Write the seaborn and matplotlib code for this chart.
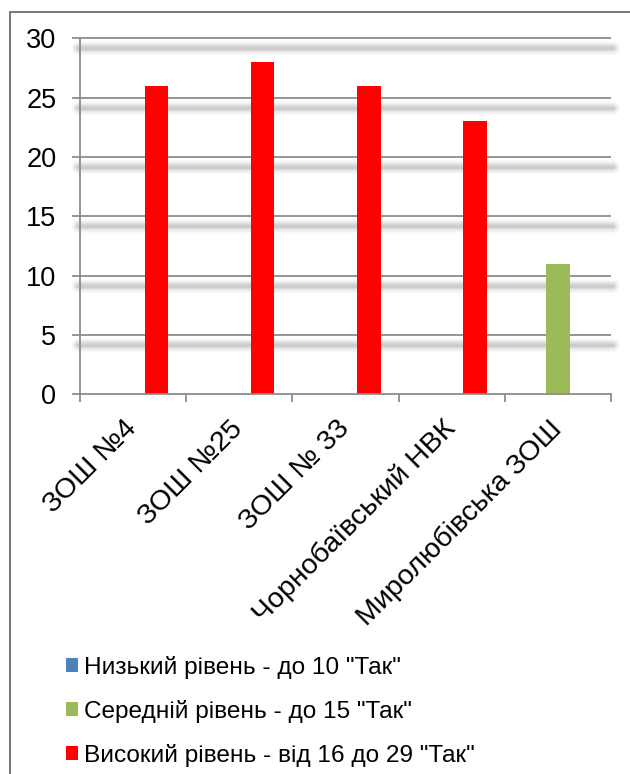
import matplotlib
matplotlib.use("Agg")
import matplotlib.pyplot as plt
import matplotlib.patches as mpatches
import seaborn as sns
import pandas as pd
import numpy as np

schools = ["ЗОШ №4", "ЗОШ №25", "ЗОШ № 33", "Чорнобаївський НВК", "Миролюбівська ЗОШ"]
series_names = ['Низький рівень - до 10 "Так"', 'Середній рівень - до 15 "Так"',
                'Високий рівень - від 16 до 29 "Так"']
low = [0, 0, 0, 0, 0]
mid = [0, 0, 0, 0, 11]
high = [26, 28, 26, 23, 0]
colors = ["#4F81BD", "#9BBB59", "#FF0000"]
yticks = [0, 5, 10, 15, 20, 25, 30]

rows = []
for name, vals in zip(series_names, [low, mid, high]):
    for s, v in zip(schools, vals):
        rows.append({"school": s, "series": name, "value": v})
df = pd.DataFrame(rows)

sns.set_theme(style="white")
plt.rcParams["font.family"] = ["Liberation Sans", "DejaVu Sans"]
plt.rcParams["text.color"] = "black"
plt.rcParams["xtick.labelcolor"] = "black"
plt.rcParams["ytick.labelcolor"] = "black"

W, H = 630, 774
fig = plt.figure(figsize=(W / 100, H / 100), dpi=100)
ax = fig.add_axes([80 / W, 1 - 394.3 / H, (611 - 80) / W, (394.3 - 38.3) / H])

sns.barplot(data=df, x="school", y="value", hue="series", order=schools,
            hue_order=series_names, palette=colors, width=0.66, ax=ax,
            saturation=1, edgecolor="none", linewidth=0, errorbar=None)

handles, labels = ax.get_legend_handles_labels()
if ax.get_legend() is not None:
    ax.get_legend().remove()

ax.set_xlim(-0.5, len(schools) - 0.5)
ax.set_ylim(0, 30)
ax.set_xlabel("")
ax.set_ylabel("")

grid_c = "#8C8C8C"
px_per_unit = (394.3 - 38.3) / 30
off = 10 / px_per_unit
# gridlines with blurred shadow
for y in yticks[1:]:
    ax.plot([-0.5, len(schools) - 0.5], [y, y], color=grid_c, lw=1.3, zorder=0.5,
            solid_capstyle="butt", clip_on=False)
    for lw, a in [(10, 0.04), (8, 0.06), (6, 0.08), (4, 0.11), (2.5, 0.14)]:
        ax.plot([-0.52, len(schools) - 0.48], [y - off, y - off], color="#7a7a7a",
                lw=lw, alpha=a, zorder=0.3, solid_capstyle="round", clip_on=False)

for sp in ["top", "right"]:
    ax.spines[sp].set_visible(False)
for sp in ["left", "bottom"]:
    ax.spines[sp].set_color(grid_c)
    ax.spines[sp].set_linewidth(1.3)

ax.set_yticks(yticks)
ax.set_yticklabels([str(t) for t in yticks])
ax.tick_params(axis="y", direction="out", length=6, width=1.3, color=grid_c,
               labelsize=19.5, pad=11, left=True, labelcolor="black")

ax.set_xticks(range(len(schools)))
ax.set_xticklabels(schools, rotation=45, ha="right", va="center",
                   rotation_mode="anchor", fontsize=20.5, color="black")
ax.tick_params(axis="x", which="major", length=0, pad=22)
ax.set_xticks(np.arange(-0.5, len(schools), 1.0), minor=True)
ax.tick_params(axis="x", which="minor", direction="out", length=6, width=1.3,
               color=grid_c, bottom=True)

for b in ax.patches:
    b.set_zorder(2)

# frame (top and left edges visible)
fig.patches.append(mpatches.Rectangle((10 / W, -0.05), 1.1, 1 - 12 / H + 0.05,
                                      transform=fig.transFigure, fill=False,
                                      edgecolor="#6d6d6d", lw=1.3))

leg = fig.legend(handles, labels, loc="upper left", bbox_to_anchor=(66 / W, 1 - 656 / H),
                 frameon=False, fontsize=17.6, handlelength=0.5, handleheight=0.5,
                 handletextpad=0.25, labelspacing=0.86, borderpad=0, borderaxespad=0)
for t in leg.get_texts():
    t.set_color("black")

fig.savefig("out.png", dpi=100)
